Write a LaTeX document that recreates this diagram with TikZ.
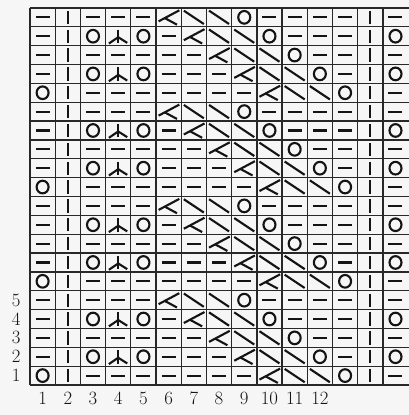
\documentclass[tikz,border=0pt]{standalone}
\usepackage{fontspec}
\usepackage{tikz}
\usetikzlibrary{positioning}
\definecolor{chartink}{RGB}{20, 20, 20}
\definecolor{chartgrid}{RGB}{40, 40, 40}
\definecolor{chartpaper}{RGB}{246, 246, 246}
\tikzset{
  gridline/.style={draw=chartgrid, line width=1.1pt},
  symline/.style={draw=chartink, line width=1.8pt},
  numlabel/.style={font=\fontsize{16}{19}\selectfont, text=chartink, inner sep=0pt},
  purlsym/.pic={\draw[symline] (-0.21cm,0cm) -- (0.21cm,0cm);},
  knitsym/.pic={\draw[symline] (0cm,-0.2cm) -- (0cm,0.2cm);},
  yosym/.pic={\draw[symline] (0cm,0cm) circle[x radius=0.18cm, y radius=0.19cm];},
  slantsym/.pic={\draw[symline] (-0.3cm,0.2cm) -- (0.3cm,-0.2cm);},
  ldecsym/.pic={\draw[symline] (0.32cm,0.21cm) -- (-0.3cm,-0.12cm);
                \draw[symline] (-0.12cm,-0.02cm) -- (0.25cm,-0.22cm);},
  cdecsym/.pic={\draw[symline] (0cm,0.2cm) -- (0cm,-0.21cm);
                \draw[symline] (-0.28cm,-0.22cm) -- (0cm,-0.03cm) -- (0.27cm,-0.2cm);},
}

\begin{document}
\begin{tikzpicture}[x=0.756cm, y=0.5655cm]
        % paper
        \fill[chartpaper] (-1.19,-1.59) rectangle (15.03,20.42);
        \useasboundingbox (-1.19,-1.59) rectangle (15.03,20.42);

        % grid: 15 columns, 20 rows, right edge cut off
        \foreach \x in {0,...,14} \draw[gridline] (\x,0) -- (\x,20);
        \foreach \y in {0,...,20} \draw[gridline] (0,\y) -- (15.03,\y);

        % four repeats of five rows
        \foreach \rep in {0,5,10,15} {
          \foreach \p/\cl/\lace/\edge in {1/10/0/1, 2/9/1/0, 3/8/0/0, 4/7/1/0, 5/6/0/0} {
            \pgfmathsetmacro{\y}{\rep+\p-0.5}
            % side stitches
            \ifnum\edge=1 \pic at (0.5,\y) {yosym}; \else \pic at (0.5,\y) {purlsym}; \fi
            \pic at (1.5,\y) {knitsym};
            \pic at (13.5,\y) {knitsym};
            % double decrease between yarn-overs
            \ifnum\lace=1
              \pic at (2.5,\y) {yosym};
              \pic at (3.5,\y) {cdecsym};
              \pic at (4.5,\y) {yosym};
              \pic at (14.5,\y) {yosym};
            \else
              \foreach \x in {2.5,3.5,4.5,14.5} \pic at (\x,\y) {purlsym};
            \fi
            % travelling diagonal
            \pic at (\cl-0.5,\y) {ldecsym};
            \pic at (\cl+0.5,\y) {slantsym};
            \pic at (\cl+1.5,\y) {slantsym};
            \pic at (\cl+2.5,\y) {yosym};
            \foreach \x in {6,...,13} {
              \pgfmathtruncatemacro{\off}{\x-\cl}
              \ifnum\off<0 \pic at (\x-0.5,\y) {purlsym}; \fi
              \ifnum\off>3 \pic at (\x-0.5,\y) {purlsym}; \fi
            }
          }
        }

        % stitch and row numbers
        \foreach \k in {1,...,12} \node[numlabel] (col\k) at (\k-0.5,-0.69) {\k};
        \foreach \k in {1,...,5} \node[numlabel] (row\k) at (-0.55,\k-0.5) {\k};
      \end{tikzpicture}
\end{document}
